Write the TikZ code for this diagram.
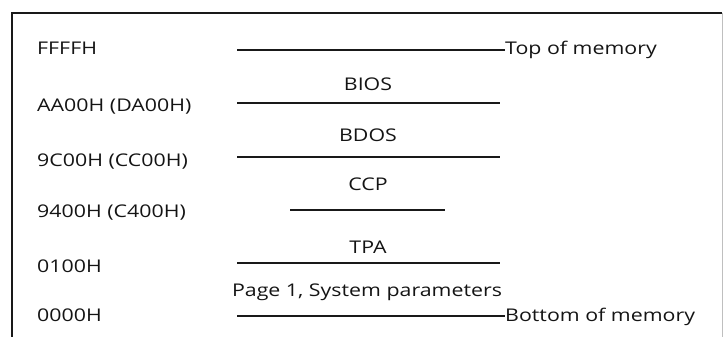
\documentclass[tikz,border=0pt]{standalone}
\usepackage{fontspec}
\setmainfont{Open Sans}[FakeStretch=1.22]
\begin{document}
\begin{tikzpicture}[x=1pt,y=-1pt,
  lbl/.style={inner sep=0pt,font=\fontsize{17.5}{20}\selectfont,text=black!92},
  sep/.style={line width=1.4pt,draw=black!90},
  frame/.style={line width=2pt,draw=black!90}]
\useasboundingbox (0,0) rectangle (724,337);
% frame
\draw[frame] (12,337) -- (12,13) -- (722,13);
\draw[line width=0.8pt,draw=black!25] (722,13) -- (722,337);
% left address labels
\node[lbl,anchor=base west] (a1) at (37,55) {FFFFH};
\node[lbl,anchor=base west] (a2) at (37,112) {AA00H (DA00H)};
\node[lbl,anchor=base west] (a3) at (37,166) {9C00H (CC00H)};
\node[lbl,anchor=base west] (a4) at (37,218) {9400H (C400H)};
\node[lbl,anchor=base west] (a5) at (37,272) {0100H};
\node[lbl,anchor=base west] (a6) at (37,321) {0000H};
% region labels
\node[lbl,anchor=base] (bios) at (368,91) {BIOS};
\node[lbl,anchor=base] (bdos) at (368,142) {BDOS};
\node[lbl,anchor=base] (ccp) at (368,190) {CCP};
\node[lbl,anchor=base] (tpa) at (368,253) {TPA};
\node[lbl,anchor=base] (page) at (367,296) {Page 1, System parameters};
% right labels
\node[lbl,anchor=base west] (top) at (505,55) {Top of memory};
\node[lbl,anchor=base west] (bot) at (505,321) {Bottom of memory};
% separator lines
\coordinate (l1) at (237,50);
\coordinate (l2a) at (237,103); \coordinate (l2b) at (500,103);
\coordinate (l3a) at (237,157); \coordinate (l3b) at (500,157);
\coordinate (l4a) at (290,210); \coordinate (l4b) at (445,210);
\coordinate (l5a) at (237,263); \coordinate (l5b) at (500,263);
\coordinate (l6) at (237,316);
\draw[sep] (l1) -- (l1 -| top.west);
\draw[sep] (l2a) -- (l2b);
\draw[sep] (l3a) -- (l3b);
\draw[sep] (l4a) -- (l4b);
\draw[sep] (l5a) -- (l5b);
\draw[sep] (l6) -- (l6 -| bot.west);
\end{tikzpicture}
\end{document}
